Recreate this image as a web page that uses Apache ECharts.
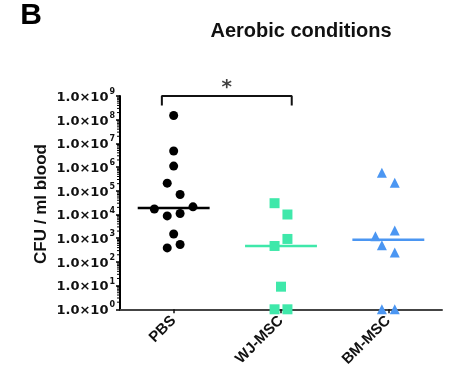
<!DOCTYPE html>
<html>
<head>
<meta charset="utf-8">
<script src="https://cdn.jsdelivr.net/npm/echarts@6/dist/echarts.min.js"></script>
<style>html,body{margin:0;padding:0;background:#fff}#c{width:450px;height:382px}</style>
</head>
<body>
<div id="c"></div>
<script>
// ---- data ----
var categories = ['PBS', 'WJ-MSC', 'BM-MSC'];
var pbsValues = [1.5e8, 4.8e6, 1.1e6, 2.1e5, 7e4, 1.7e4, 2.1e4, 8.7e3, 1.1e4, 1.5e3, 390, 540];
var wjValues  = [3e4, 1e4, 930, 470, 9, 1, 1];
var bmValues  = [5.8e5, 2.2e5, 2.1e3, 1.2e3, 510, 250, 1, 1];
// horizontal scatter offsets (category units) as drawn in the reference
var pbsJitter = [0, 0, 0, -0.06, 0.06, -0.18, 0.18, -0.06, 0.06, 0, -0.06, 0.06];
var wjJitter  = [-0.06, 0.06, 0.06, -0.06, 0, -0.06, 0.06];
var bmJitter  = [-0.06, 0.06, 0.06, -0.12, -0.06, 0.06, -0.06, 0.06];
var yTickExponents = [0, 1, 2, 3, 4, 5, 6, 7, 8, 9];
var sigPair = [0, 1];   // PBS vs WJ-MSC
var sigLabel = '*';

function median(a) {
  var s = a.slice().sort(function (x, y) { return x - y; });
  var n = s.length;
  return n % 2 ? s[(n - 1) / 2] : (s[n / 2 - 1] + s[n / 2]) / 2;
}
function pts(vals, jit, ci) {
  return vals.map(function (v, i) { return [ci + 0.5 + jit[i], v]; });
}
function medLine(vals, ci) {
  var m = median(vals);
  return [[ci + 0.5 - 0.335, m], [ci + 0.5 + 0.335, m]];
}

var black = '#000000', green = '#3fe8aa', blue = '#4b96f2';
var chart = echarts.init(document.getElementById('c'), null, {renderer: 'canvas'});

var yMin = Math.pow(10, yTickExponents[0]);
var yMax = Math.pow(10, yTickExponents[yTickExponents.length - 1]);
var bracketLow = Math.pow(10, 8.6);

// minor ticks 2..9 of every decade (log-spaced)
var minorTickValues = [];
yTickExponents.slice(0, -1).forEach(function (e) {
  for (var k = 2; k <= 9; k++) minorTickValues.push(k * Math.pow(10, e));
});

var option = {
  animation: false,
  backgroundColor: '#ffffff',
  grid: {left: 120, right: 8, top: 96, bottom: 72.7, containLabel: false},
  xAxis: [
    {type: 'value', min: 0, max: categories.length, show: false},
    {
      type: 'category', data: categories, position: 'bottom', boundaryGap: true,
      axisLine: {show: true, lineStyle: {color: '#444', width: 2}},
      axisTick: {show: true, alignWithLabel: true, length: 4, lineStyle: {color: '#111', width: 1.5}},
      axisLabel: {rotate: 45, margin: 9, color: '#111', fontSize: 15, fontWeight: 'bold', fontFamily: 'Liberation Sans'},
      splitLine: {show: false}
    }
  ],
  yAxis: {
    type: 'log', logBase: 10, min: yMin, max: yMax, splitNumber: yTickExponents.length - 1,
    axisLine: {show: true, lineStyle: {color: '#000', width: 2}},
    axisTick: {show: true, length: 4, lineStyle: {color: '#000', width: 1.5}},
    minorTick: {show: false},
    splitLine: {show: false},
    axisLabel: {
      margin: 5,
      formatter: function (v) {
        var e = Math.round(Math.log10(v));
        return '{b|1.0×10}{s|' + e + '}';
      },
      rich: {
        b: {fontSize: 13, fontWeight: 'bold', fontFamily: 'DejaVu Sans', color: '#111', lineHeight: 16, verticalAlign: 'bottom'},
        s: {fontSize: 8, fontWeight: 'bold', fontFamily: 'DejaVu Sans', color: '#111', lineHeight: 16, verticalAlign: 'top', padding: [0, 0, 2, 1]}
      }
    }
  },
  series: [
    {type: 'scatter', xAxisIndex: 0, data: pts(pbsValues, pbsJitter, 0), symbol: 'circle', symbolSize: 9, itemStyle: {color: black, opacity: 1}, z: 3},
    {type: 'scatter', xAxisIndex: 0, data: pts(wjValues, wjJitter, 1), symbol: 'rect', symbolSize: 10, itemStyle: {color: green, opacity: 1}, z: 3},
    {type: 'scatter', xAxisIndex: 0, data: pts(bmValues, bmJitter, 2), symbol: 'triangle', symbolSize: 10, itemStyle: {color: blue, opacity: 1}, z: 3},
    {type: 'line', xAxisIndex: 0, data: medLine(pbsValues, 0), symbol: 'none', lineStyle: {color: black, width: 2.5}, z: 4},
    {type: 'line', xAxisIndex: 0, data: medLine(wjValues, 1), symbol: 'none', lineStyle: {color: green, width: 2.5}, z: 4},
    {type: 'line', xAxisIndex: 0, data: medLine(bmValues, 2), symbol: 'none', lineStyle: {color: blue, width: 2.5}, z: 4},
    {
      type: 'line', xAxisIndex: 0, clip: false, symbol: 'none', z: 5,
      lineStyle: {color: '#111', width: 2},
      data: [[sigPair[0] + 0.39, bracketLow], [sigPair[0] + 0.39, yMax], [sigPair[1] + 0.6, yMax], [sigPair[1] + 0.6, bracketLow]]
    },
    {
      type: 'scatter', xAxisIndex: 0, clip: false, symbolSize: 0, z: 5,
      data: [[(sigPair[0] + 0.39 + sigPair[1] + 0.6) / 2, yMax]],
      label: {show: true, position: 'top', distance: -2, formatter: sigLabel, fontSize: 20, fontWeight: 'bold', color: '#111', fontFamily: 'DejaVu Sans'}
    },
    {
      type: 'scatter', xAxisIndex: 0, clip: false, symbol: 'rect', symbolSize: [3, 1], symbolOffset: [-1.5, 0], z: 1,
      itemStyle: {color: '#000', opacity: 1}, silent: true,
      data: minorTickValues.map(function (v) { return [0, v]; })
    }
  ],
  graphic: [
    {type: 'text', x: 31, y: 16, style: {text: 'B', font: 'bold 30px "Liberation Sans"', fill: '#000', textAlign: 'center', textVerticalAlign: 'middle'}},
    {type: 'text', x: 301, y: 31, style: {text: 'Aerobic conditions', font: 'bold 20px "Liberation Sans"', fill: '#111', textAlign: 'center', textVerticalAlign: 'middle'}},
    {type: 'text', x: 41, y: 204, rotation: Math.PI / 2, style: {text: 'CFU / ml blood', font: 'bold 17px "Liberation Sans"', fill: '#111', textAlign: 'center', textVerticalAlign: 'middle'}}
  ]
};
chart.setOption(option);
</script>
</body>
</html>
